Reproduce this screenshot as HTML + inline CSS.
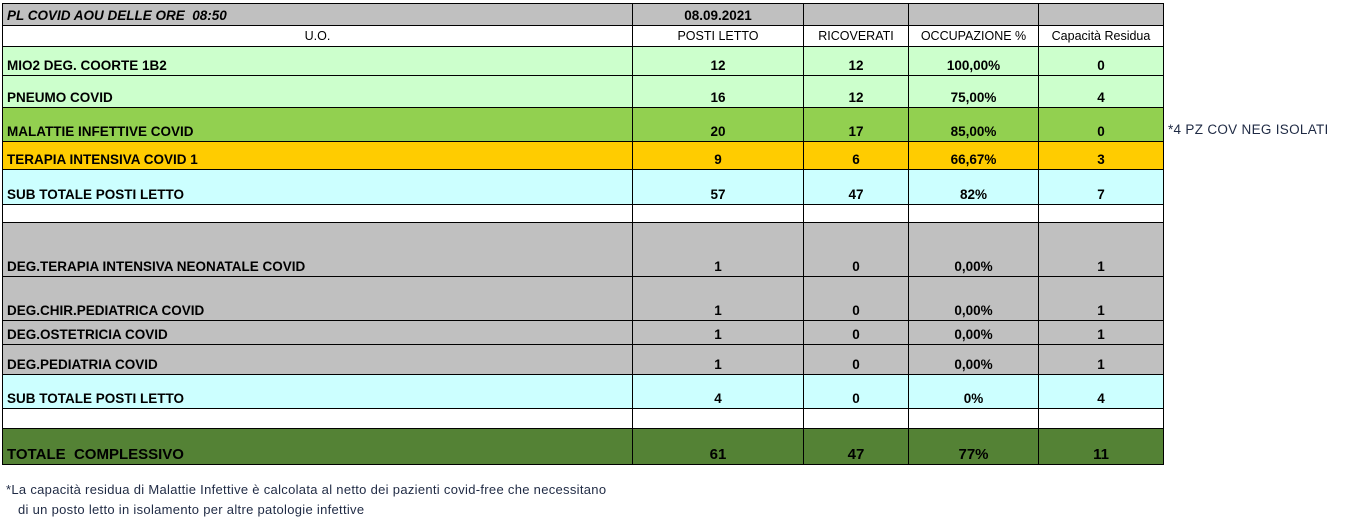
<!DOCTYPE html>
<html><head><meta charset="utf-8"><style>
body{margin:0;background:#fff;width:1346px;height:527px;overflow:hidden;position:relative;font-family:"Liberation Sans",Arial,sans-serif;}
table{position:absolute;left:2px;top:3px;border-collapse:collapse;table-layout:fixed;}
td{border:1px solid #000;padding:0 0 2px 0;vertical-align:bottom;font-size:13.5px;font-weight:bold;text-align:center;white-space:nowrap;overflow:hidden;line-height:15px;}
td.l{text-align:left;padding-left:4px;}
.n td{font-weight:normal;font-size:12.5px;}
.g1 td{background:#ccffcc}.g2 td{background:#92d050}.o td{background:#ffcc00}.c td{background:#ccffff}.gr td{background:#c0c0c0}.dg td{background:#548235}
.note{position:absolute;font-size:13px;color:#1f2a44;letter-spacing:0.3px;}
</style></head><body>
<table>
<colgroup><col style="width:630px"><col style="width:171px"><col style="width:105px"><col style="width:130px"><col style="width:125px"></colgroup>
<tr class="gr" style="height:22px"><td class="l" style="font-style:italic">PL COVID AOU DELLE ORE&nbsp; 08:50</td><td>08.09.2021</td><td></td><td></td><td></td></tr>
<tr class="n" style="height:21px"><td>U.O.</td><td>POSTI LETTO</td><td>RICOVERATI</td><td>OCCUPAZIONE %</td><td>Capacità Residua</td></tr>
<tr class="g1" style="height:29px"><td class="l">MIO2 DEG. COORTE 1B2</td><td>12</td><td>12</td><td>100,00%</td><td>0</td></tr>
<tr class="g1" style="height:32px"><td class="l">PNEUMO COVID</td><td>16</td><td>12</td><td>75,00%</td><td>4</td></tr>
<tr class="g2" style="height:34px"><td class="l">MALATTIE INFETTIVE COVID</td><td>20</td><td>17</td><td>85,00%</td><td>0</td></tr>
<tr class="o" style="height:28px"><td class="l">TERAPIA INTENSIVA COVID 1</td><td>9</td><td>6</td><td>66,67%</td><td>3</td></tr>
<tr class="c" style="height:35px"><td class="l">SUB TOTALE POSTI LETTO</td><td>57</td><td>47</td><td>82%</td><td>7</td></tr>
<tr style="height:18px"><td></td><td></td><td></td><td></td><td></td></tr>
<tr class="gr" style="height:54px"><td class="l">DEG.TERAPIA INTENSIVA NEONATALE COVID</td><td>1</td><td>0</td><td>0,00%</td><td>1</td></tr>
<tr class="gr" style="height:44px"><td class="l">DEG.CHIR.PEDIATRICA COVID</td><td>1</td><td>0</td><td>0,00%</td><td>1</td></tr>
<tr class="gr" style="height:24px"><td class="l">DEG.OSTETRICIA COVID</td><td>1</td><td>0</td><td>0,00%</td><td>1</td></tr>
<tr class="gr" style="height:30px"><td class="l">DEG.PEDIATRIA COVID</td><td>1</td><td>0</td><td>0,00%</td><td>1</td></tr>
<tr class="c" style="height:34px"><td class="l">SUB TOTALE POSTI LETTO</td><td>4</td><td>0</td><td>0%</td><td>4</td></tr>
<tr style="height:20px"><td></td><td></td><td></td><td></td><td></td></tr>
<tr class="dg" style="height:36px"><td class="l" style="font-size:15px">TOTALE&nbsp; COMPLESSIVO</td><td style="font-size:15px">61</td><td style="font-size:15px">47</td><td style="font-size:15px">77%</td><td style="font-size:15px">11</td></tr>
</table>
<div class="note" style="left:1168px;top:122px;font-size:13.5px">*4 PZ COV NEG ISOLATI</div>
<div class="note" style="left:6px;top:482px">*La capacità residua di Malattie Infettive è calcolata al netto dei pazienti covid-free che necessitano</div>
<div class="note" style="left:18px;top:502px">di un posto letto in isolamento per altre patologie infettive</div>
</body></html>
